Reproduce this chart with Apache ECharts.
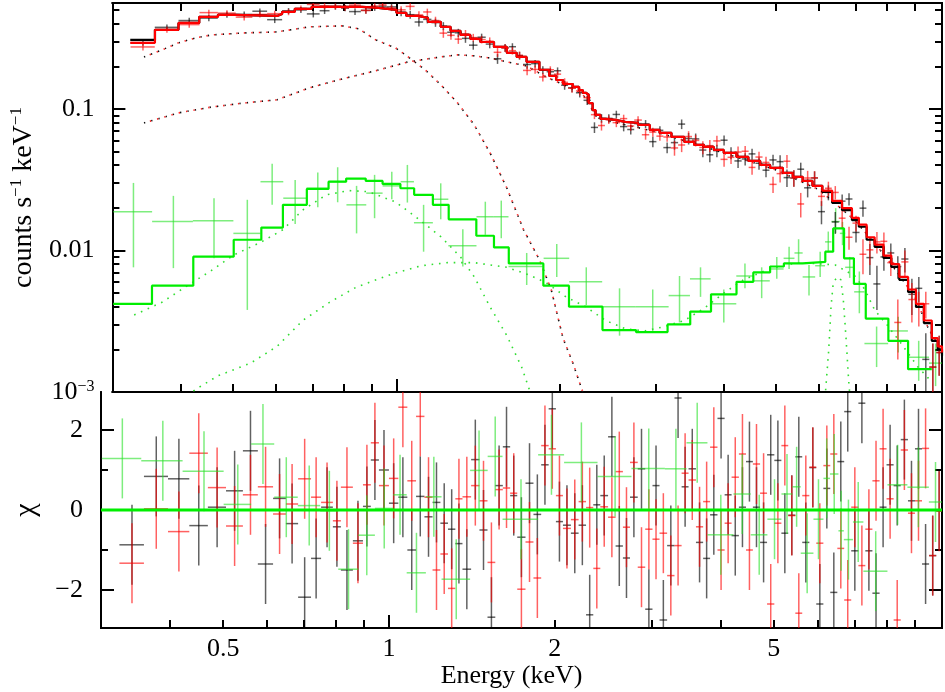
<!DOCTYPE html>
<html><head><meta charset="utf-8">
<script src="https://cdn.jsdelivr.net/npm/echarts@6/dist/echarts.min.js"></script>
<style>html,body{margin:0;padding:0;background:#fff}#c{width:945px;height:692px}</style>
</head><body><div id="c"></div>
<script>
// ---------- axis ranges & ticks ----------
const X_MIN = 0.3, X_MAX = 10.1;
const Y_MIN = 0.001, Y_MAX = 0.56;
const CHI_MIN = -2.95, CHI_MAX = 2.95;
const xMinorTicks = [0.4,0.5,0.6,0.7,0.8,0.9,2,3,4,5,6,7,8,9];
const xMajorTicks = [1];
const xTickLabels = [0.5,1,2,5];
const yMajorTicks = [0.001,0.01,0.1];
const yMinorTicks = [0.002,0.003,0.004,0.005,0.006,0.007,0.008,0.009,0.02,0.03,0.04,0.05,0.06,0.07,0.08,0.09,0.2,0.3,0.4,0.5];
const chiMajorTicks = [-2,0,2];
const chiMinorTicks = [-1,1];

// ---------- black / red spectra (shared bins) ----------
const binEdges = [0.324,0.359,0.397,0.434,0.469,0.506,0.543,0.578,0.616,0.650,0.684,0.722,0.753,0.791,0.818,0.860,0.897,0.927,0.959,
  1.00,1.04,1.08,1.12,1.16,1.20,1.24,1.28,1.32,1.36,1.41,1.46,1.51,1.56,1.61,1.66,1.71,1.77,1.83,1.89,1.95,
  2.01,2.07,2.14,2.21,2.28,2.35,2.42,2.50,2.58,2.66,2.74,2.83,2.92,3.01,3.10,3.20,3.30,3.40,3.50,3.61,
  3.72,3.83,3.95,4.07,4.19,4.32,4.45,4.58,4.72,4.86,5.01,5.16,5.31,5.47,5.63,5.80,5.97,6.15,6.33,6.52,
  6.71,6.91,7.12,7.33,7.55,7.78,8.01,8.25,8.50,8.76,9.02,9.29,9.57,9.86,10.1];
const blackRate = [0.294,0.377,0.421,0.438,0.464,0.465,0.490,0.427,0.492,0.500,0.469,0.494,0.528,0.515,0.487,0.497,0.519,0.532,0.526,
  0.482,0.463,0.411,0.429,0.407,0.385,0.348,0.345,0.315,0.282,
  0.321,0.287,0.226,0.270,0.275,0.238,0.206,0.209,0.188,0.183,
  0.186,0.147,0.141,0.130,0.115,0.074,0.0858,0.0857,0.0914,0.075,
  0.0715,0.0787,0.0783,0.0587,0.0706,0.0533,0.0578,0.0781,0.0618,0.0614,
  0.0512,0.0474,0.0507,0.0601,0.0488,0.0429,0.0443,0.0481,0.0413,0.0369,
  0.0436,0.0424,0.0327,0.0325,0.0375,0.0277,0.0325,0.0188,0.0257,0.0159,
  0.0223,0.0231,0.0134,0.0199,0.0089,0.0058,0.0090,0.0096,0.0077,0.0087,
  0.0049,0.0054,0.0017,0.0015,0.0019];
const redRate = [0.274,0.363,0.394,0.479,0.475,0.445,0.465,0.471,0.483,0.513,0.547,0.534,0.531,0.519,0.541,0.496,0.533,0.543,0.516,
  0.501,0.530,0.461,0.484,0.421,0.343,0.331,0.311,0.339,0.319,
  0.309,0.301,0.251,0.269,0.258,0.239,0.187,0.190,0.168,0.189,
  0.176,0.154,0.140,0.134,0.120,0.0911,0.0763,0.0841,0.080,0.0854,
  0.0757,0.0834,0.0657,0.0686,0.0642,0.0633,0.053,0.0556,0.0638,0.0599,
  0.0534,0.055,0.0594,0.044,0.0455,0.0496,0.0502,0.0386,0.0457,0.0419,
  0.0293,0.0349,0.0427,0.0325,0.0213,0.0325,0.0326,0.0241,0.0275,0.0257,
  0.0169,0.0124,0.0156,0.0094,0.0101,0.0115,0.0116,0.0082,0.0031,0.0083,
  0.0045,0.0040,0.0042,0.0015,0.0019];
const rateErr = [0.015,0.018,0.020,0.022,0.023,0.023,0.023,0.023,0.024,0.025,0.026,0.026,0.026,0.026,0.026,0.026,0.026,0.025,0.025,
  0.031,0.030,0.029,0.027,0.027,0.025,0.023,0.023,0.022,0.020,
  0.019,0.019,0.018,0.017,0.016,0.015,0.014,0.013,0.012,0.011,
  0.0104,0.0105,0.010,0.0095,0.0083,0.0064,0.006,0.0059,0.0057,0.0056,
  0.0055,0.0054,0.0051,0.005,0.0047,0.0046,0.0063,0.0061,0.0058,0.0056,
  0.0056,0.0054,0.0051,0.0049,0.0047,0.0046,0.0044,0.0043,0.0041,0.004,
  0.0038,0.0047,0.0046,0.0043,0.0042,0.004,0.0037,0.0035,0.0031,0.0028,
  0.0025,0.0023,0.002,0.0026,0.0022,0.002,0.0018,0.0016,0.0014,0.0017,
  0.0014,0.0011,0.0009,0.0007,0.0006];
const blackChi = [-0.87,0.84,0.78,-0.39,0.07,0.48,1.48,-1.35,0.29,-0.34,-2.18,-1.21,0.07,-0.42,-1.5,-0.77,0.09,1.25,1.0,
  0.17,0.32,-1.0,0.34,-0.17,0.19,-0.33,-0.48,-0.84,-1.48,
  1.26,-0.5,-2.68,0.61,1.58,0.36,-0.68,0.67,-0.11,1.13,
  2.53,-0.29,-0.38,-0.58,-0.38,-2.62,0.13,0.36,1.83,-0.9,
  -1.2,0.32,1.03,-2.48,0.61,-2.75,-0.89,2.8,0.58,1.03,
  -0.81,-1.21,-0.12,2.29,0.38,-0.64,0.07,1.21,0.07,-0.81,
  1.38,1.24,-0.58,-0.13,1.33,-0.81,1.06,-2.35,0.54,-2.06,
  1.21,2.46,-1.02,2.67,-1.02,-2.08,0.07,1.13,0.61,1.76,
  0.23,1.53,-1.35,-1.14,-0.02];
const redChi = [-1.33,0.03,-0.54,1.42,0.56,-0.4,0.38,0.58,-0.1,0.15,0.78,0.32,0.19,-0.27,0.57,-0.83,0.63,1.68,0.61,
  0.79,2.57,0.73,2.34,0.32,-1.5,-1.1,-1.96,0.28,0.33,
  0.61,0.23,-1.31,0.51,0.55,0.42,-1.98,-0.8,-1.7,1.61,
  1.53,0.36,-0.46,-0.24,0.21,0.06,-1.46,0.08,-0.18,0.96,
  -0.43,1.19,-1.43,-0.48,-0.73,-0.58,-1.64,-0.89,0.92,0.75,
  -0.42,0.21,1.57,-1.0,-0.33,0.82,1.4,-1.0,1.15,0.42,
  -2.35,-0.33,1.61,-0.14,-2.58,0.36,1.07,-0.83,1.11,1.4,
  -0.96,-2.25,0.07,-1.39,-0.48,0.73,1.53,0.28,-2.75,1.5,
  -0.08,0.23,1.54,-1.14,-0.03];

// ---------- green spectrum ----------
const greenEdges = [0.301,0.355,0.422,0.501,0.562,0.619,0.683,0.750,0.809,0.880,0.943,1.018,1.077,1.167,1.246,1.404,1.511,1.608,1.866,2.080,
  2.392,2.757,3.170,3.470,3.788,4.223,4.539,4.867,5.161,5.404,5.595,5.900,6.152,6.322,6.55,6.70,6.96,7.27,8.04,8.74,9.56,10.1];
const greenRate = [0.0188,0.016,0.0162,0.0132,0.0306,0.0234,0.0275,0.0306,0.021,0.0254,
  0.0286,0.0306,0.0157,0.023,0.0108,0.0173,0.0173,0.0077,0.0088,0.006,
  0.0040,0.0040,0.0048,0.0063,0.0042,0.0066,0.0061,0.0074,0.0088,0.0096,
  0.0065,0.0078,0.0115,0.016,0.0132,0.0076,0.0051,0.0022,0.0027,0.00176,0.0016];
const greenUp = [0.030,0.0243,0.0234,0.0228,0.0409,0.0315,0.0355,0.0387,0.0286,0.0342,
  0.036,0.0402,0.021,0.0298,0.0141,0.0221,0.0225,0.0096,0.0111,0.0076,
  0.0054,0.0053,0.0066,0.0076,0.0053,0.0081,0.0076,0.0090,0.0106,0.012,
  0.0079,0.0098,0.0136,0.0199,0.0159,0.009,0.0071,0.0029,0.0034,0.0023,0.0022];
const greenDown = [0.0076,0.0075,0.0088,0.0038,0.021,0.0154,0.0202,0.0219,0.0132,0.0169,
  0.023,0.0218,0.0098,0.0166,0.0077,0.0129,0.0122,0.0057,0.0065,0.0041,
  0.0025,0.0027,0.0031,0.0047,0.0031,0.0054,0.0046,0.0063,0.0074,0.0081,
  0.0048,0.0065,0.0097,0.0132,0.0109,0.0064,0.0036,0.0015,0.0019,0.0012,0.0011];
const greenChi = [1.29,1.23,0.97,0.14,1.65,0.32,0.11,-0.02,-1.48,-0.63,
  0.04,0.38,-1.57,0.33,-1.73,0.99,1.34,-0.23,1.38,1.19,
  0.84,1.04,1.03,1.68,-0.62,0.40,-0.62,-0.23,0.40,0.58,
  -1.08,-0.23,0.79,0.9,-0.52,-0.74,-0.3,-1.53,0.63,0.57,0.2];

// ---------- models ----------
const modelE = [0.3236,0.3593,0.397,0.4335,0.4693,0.506,0.603,0.616,0.650,0.698,0.864,0.927,1.0,1.043,1.096,1.143,1.207,1.258,1.312,1.368,
  1.427,1.512,1.597,1.665,1.736,1.833,1.911,1.968,2.026,2.113,2.167,2.203,2.231,2.259,2.297,2.326,2.375,2.426,2.528,2.637,
  2.784,2.927,3.051,3.209,3.388,3.532,3.684,3.840,4.005,4.227,4.445,4.674,4.874,5.145,5.365,5.595,5.833,6.081,6.340,6.611,
  6.895,7.100,7.339,7.591,7.881,8.148,8.427,8.747,9.046,9.354,9.672,9.917,10.1];
const blackModel = [0.307,0.362,0.405,0.447,0.462,0.454,0.469,0.485,0.509,0.526,0.517,0.501,0.477,0.454,0.440,0.412,0.380,0.356,0.333,0.312,
  0.297,0.274,0.249,0.233,0.215,0.189,0.171,0.160,0.150,0.143,0.136,0.130,0.126,0.110,0.098,0.0907,0.085,0.0836,0.081,0.0796,
  0.077,0.071,0.0677,0.0634,0.0584,0.0557,0.0539,0.0513,0.0489,0.0458,0.0429,0.0402,0.0383,0.0353,0.0331,0.031,0.0286,0.0259,0.0217,0.0193,
  0.0164,0.0147,0.0119,0.0106,0.00885,0.00765,0.0062,0.00509,0.00399,0.00307,0.0023,0.0020,0.0018];
const redModel = [0.293,0.362,0.405,0.447,0.462,0.454,0.469,0.485,0.509,0.526,0.517,0.501,0.477,0.454,0.440,0.412,0.380,0.356,0.333,0.312,
  0.297,0.274,0.249,0.233,0.215,0.189,0.171,0.160,0.150,0.143,0.136,0.130,0.126,0.110,0.098,0.0907,0.085,0.0836,0.081,0.0796,
  0.077,0.071,0.0677,0.0634,0.0584,0.0557,0.0539,0.0513,0.0489,0.0458,0.0429,0.0402,0.0383,0.0353,0.0331,0.031,0.0286,0.0265,0.0224,0.0199,
  0.0170,0.0152,0.0124,0.0110,0.0092,0.0080,0.0065,0.0053,0.0042,0.0032,0.0024,0.0021,0.0019];
const softE = [0.343,0.370,0.397,0.428,0.456,0.523,0.603,0.692,0.795,0.853,0.916,0.996,1.051,1.129,1.207,1.296,1.391,1.487,1.597,1.714,1.833,1.927,2.026,2.113,2.203,2.278];
const softV = [0.233,0.261,0.293,0.318,0.333,0.344,0.350,0.380,0.386,0.368,0.307,0.270,0.233,0.189,0.148,0.110,0.077,0.0489,0.0276,0.014,0.0086,0.0053,0.0024,0.0016,0.001,0.00063];
const hardE = [0.343,0.397,0.456,0.523,0.603,0.692,0.795,0.916,1.051,1.207,1.296,1.391,1.487,1.597,1.736,1.888,2.05,2.2,2.26,2.33,2.43,3.0,4.0,5.0,6.0,7.0,8.0,9.0,9.5,10.1];
const hardV = [0.0796,0.0937,0.103,0.110,0.116,0.141,0.163,0.186,0.215,0.233,0.241,0.237,0.229,0.215,0.201,0.168,0.146,0.128,0.108,0.089,0.083,0.069,0.0489,0.0370,0.0268,0.0162,0.0088,0.0047,0.0029,0.0019];
const gModelE = [0.301,0.3548,0.4227,0.5017,0.564,0.618,0.684,0.750,0.808,0.878,0.943,1.017,1.078,1.167,1.248,1.403,1.512,1.610,1.864,2.078,
  2.395,2.761,3.156,3.474,3.794,4.227,4.539,4.874,5.167,5.595,6.159,6.368,6.668,6.953,7.311,8.046,8.747,9.672];
const gModelV = [0.00419,0.00564,0.00904,0.0119,0.0145,0.0210,0.0272,0.0306,0.0322,0.0310,0.0295,0.0275,0.0247,0.0210,0.0166,0.0127,0.0105,0.0081,0.00564,0.00401,
  0.00274,0.00265,0.0030,0.0037,0.0049,0.0060,0.0070,0.0077,0.0081,0.0083,0.0098,0.0143,0.0088,0.0058,0.0033,0.0023,0.00145,0.00145];
const gSoftE = [0.329,0.370,0.414,0.456,0.502,0.562,0.618,0.672,0.743,0.818,0.889,0.996,1.083,1.207,1.312,1.391,1.487,1.597,1.700,1.758,1.810];
const gSoftV = [0.0035,0.0043,0.0057,0.0072,0.0093,0.0114,0.0140,0.0193,0.0247,0.0265,0.0260,0.0220,0.0174,0.0125,0.0090,0.0065,0.0040,0.0025,0.0015,0.00103,0.0007];
const gHardE = [0.402,0.428,0.469,0.539,0.603,0.672,0.753,0.843,0.979,1.110,1.243,1.391,1.597,1.758,1.888,2.052,2.231,2.426,2.637,2.867,
  3.117,3.388,3.684,4.005,4.354,4.733,5.145,5.595,6.421,6.982,7.281,7.591,8.046,8.495,9.123,9.631];
const gHardV = [0.00088,0.00105,0.0013,0.0016,0.0021,0.0032,0.0043,0.0055,0.0068,0.0078,0.0082,0.0082,0.0076,0.0067,0.0059,0.0047,0.0040,0.0032,0.0028,0.0027,
  0.0029,0.0032,0.0039,0.0050,0.0062,0.0071,0.0079,0.0082,0.0079,0.0066,0.0053,0.0038,0.0029,0.0022,0.0015,0.0012];
const feE = [6.10,6.16,6.25,6.31,6.37,6.475,6.58,6.65,6.72,6.80,6.86,6.92];
const feV = [0.0005,0.00097,0.0020,0.0040,0.0059,0.0065,0.0062,0.0044,0.0025,0.0012,0.0008,0.0004];

// ---------- helpers ----------
const FONT = 'Liberation Serif';
const pairs = (xs, ys) => xs.map((x, i) => [x, ys[i]]);
function crossRows(edges, vals, lowArr, highArr) {
  const rows = [];
  for (let i = 0; i < vals.length; i++) {
    const lo = edges[i], hi = edges[i + 1];
    rows.push([(lo + hi) / 2, vals[i], lo, hi, lowArr[i], highArr[i]]);
  }
  return rows;
}
function renderCross(color, width) {
  return function (params, api) {
    const cs = params.coordSys;
    const x0 = cs.x, x1 = cs.x + cs.width, y0 = cs.y, y1 = cs.y + cs.height;
    const p = api.coord([api.value(0), api.value(1)]);
    const pl = api.coord([api.value(2), api.value(1)]);
    const pr = api.coord([api.value(3), api.value(1)]);
    const pb = api.coord([api.value(0), api.value(4)]);
    const pt = api.coord([api.value(0), api.value(5)]);
    const style = { stroke: color, lineWidth: width };
    const ch = [];
    if (p[1] >= y0 && p[1] <= y1) ch.push({ type: 'line', shape: { x1: Math.max(x0, pl[0]), y1: p[1], x2: Math.min(x1, pr[0]), y2: p[1] }, style });
    const ya = Math.max(y0, Math.min(y1, pt[1])), yb = Math.max(y0, Math.min(y1, pb[1]));
    if (yb > ya) ch.push({ type: 'line', shape: { x1: p[0], y1: ya, x2: p[0], y2: yb }, style });
    return { type: 'group', children: ch };
  };
}
function crossSeries(rows, xi, yi, color, width, z) {
  return { type: 'custom', xAxisIndex: xi, yAxisIndex: yi, z, silent: true, data: rows,
    encode: { x: 0, y: 1 }, renderItem: renderCross(color, width) };
}
function lineSeries(data, xi, yi, color, width, z, extra) {
  return Object.assign({ type: 'line', xAxisIndex: xi, yAxisIndex: yi, z, silent: true, data,
    showSymbol: false, symbol: 'none', clip: true, lineStyle: { color, width } }, extra || {});
}
function dotted(data, color, dash, offset, width) {
  return lineSeries(data, 0, 0, color, width, 2, { lineStyle: { color, width, type: dash, dashOffset: offset, cap: 'butt' } });
}
const AXLINE = { show: true, onZero: false, lineStyle: { color: '#000', width: 2 } };
const LBL = { fontFamily: FONT, fontSize: 26, color: '#000' };
function axisDef(kind, grid, pos, ticks, len, extra) {
  const base = { gridIndex: grid, position: pos, axisLine: AXLINE,
    axisTick: { show: true, inside: true, length: len, customValues: ticks, lineStyle: { color: '#000', width: 2 } },
    axisLabel: { show: false }, splitLine: { show: false }, minorTick: { show: false }, minorSplitLine: { show: false } };
  if (kind === 'x') Object.assign(base, { type: 'log', logBase: 10, min: X_MIN, max: X_MAX });
  else if (kind === 'ylog') Object.assign(base, { type: 'log', logBase: 10, min: Y_MIN, max: Y_MAX });
  else Object.assign(base, { type: 'value', min: CHI_MIN, max: CHI_MAX });
  return Object.assign(base, extra || {});
}

const xAxes = [
  axisDef('x', 0, 'bottom', xMinorTicks, 8),
  axisDef('x', 0, 'bottom', xMajorTicks, 13),
  axisDef('x', 0, 'top', xMinorTicks, 8),
  axisDef('x', 0, 'top', xMajorTicks, 13),
  axisDef('x', 1, 'bottom', xMinorTicks, 8, {
    axisLabel: Object.assign({ show: true, customValues: xTickLabels, margin: 8, formatter: v => String(+v.toFixed(2)) }, LBL),
    name: 'Energy (keV)', nameLocation: 'middle', nameGap: 34,
    nameTextStyle: Object.assign({ padding: [0, 20, 0, 0] }, LBL) }),
  axisDef('x', 1, 'bottom', xMajorTicks, 13)
];
const yAxes = [
  axisDef('ylog', 0, 'left', yMajorTicks, 13, {
    axisLabel: Object.assign({ show: true, customValues: yMajorTicks, margin: 18,
      formatter: v => (Math.abs(v - 0.001) < 1e-9 ? '{b|10}{s|−3}' : String(+v.toFixed(3))),
      rich: { b: { fontFamily: FONT, fontSize: 26, color: '#000' }, s: { fontFamily: FONT, fontSize: 16, color: '#000', verticalAlign: 'top', padding: [0, 0, 10, 0] } } }, LBL),
    name: '{a|counts s}{s|−1}{a| keV}{s|−1}', nameLocation: 'middle', nameGap: 52, nameRotate: 90,
    nameTextStyle: Object.assign({ rich: { a: { fontFamily: FONT, fontSize: 28, color: '#000', lineHeight: 32 },
      s: { fontFamily: FONT, fontSize: 17, color: '#000', verticalAlign: 'top', lineHeight: 32, padding: [0, 0, 12, 0] } } }, LBL) }),
  axisDef('ylog', 0, 'left', yMinorTicks, 7),
  axisDef('ylog', 0, 'right', yMajorTicks, 13),
  axisDef('ylog', 0, 'right', yMinorTicks, 7),
  axisDef('chi', 1, 'left', chiMajorTicks, 13, {
    axisLabel: Object.assign({ show: true, customValues: chiMajorTicks, margin: 18, formatter: v => (v < 0 ? '−' + Math.abs(v) : String(v)) }, LBL),
    name: 'χ', nameLocation: 'middle', nameGap: 60, nameRotate: 90, nameTextStyle: Object.assign({}, LBL, { fontSize: 30 }) }),
  axisDef('chi', 1, 'left', chiMinorTicks, 7),
  axisDef('chi', 1, 'right', chiMajorTicks, 13),
  axisDef('chi', 1, 'right', chiMinorTicks, 7)
];

const BLACK = 'rgba(0,0,0,0.62)', RED = 'rgba(255,0,0,0.62)', GREENX = 'rgba(40,225,40,0.6)';
const up = (v, e) => v.map((x, i) => x + e[i]);
const dn = (v, e) => v.map((x, i) => x - e[i]);
const plus1 = v => v.map(x => x + 1), minus1 = v => v.map(x => x - 1);

const series = [
  // top panel: model components (dotted, black and red dots side by side)
  dotted(pairs(softE, softV), '#111', [1.3, 6.2], 0, 1.6),
  dotted(pairs(softE, softV), '#ff2020', [1.3, 6.2], 1.4, 1.6),
  dotted(pairs(hardE, hardV), '#111', [1.3, 6.2], 0, 1.6),
  dotted(pairs(hardE, hardV), '#ff2020', [1.3, 6.2], 1.4, 1.6),
  dotted(pairs(gSoftE, gSoftV), '#33dd33', [1.6, 5.8], 0, 1.6),
  dotted(pairs(gHardE, gHardV), '#33dd33', [1.6, 5.8], 0, 1.6),
  dotted(pairs(feE, feV), '#33dd33', [1.6, 5.8], 0, 1.6),
  // top panel: data
  crossSeries(crossRows(greenEdges, greenRate, greenDown, greenUp), 0, 0, GREENX, 1.5, 3),
  crossSeries(crossRows(binEdges, blackRate, dn(blackRate, rateErr), up(blackRate, rateErr)), 0, 0, BLACK, 1.5, 3),
  crossSeries(crossRows(binEdges, redRate, dn(redRate, rateErr), up(redRate, rateErr)), 0, 0, RED, 1.5, 3),
  // top panel: total models (steps)
  lineSeries(pairs(modelE, blackModel), 0, 0, '#000', 2.2, 5, { step: 'end' }),
  lineSeries(pairs(modelE, redModel), 0, 0, '#ff0000', 2.2, 6, { step: 'end' }),
  lineSeries(pairs(gModelE, gModelV), 0, 0, '#00ee00', 2.2, 6, { step: 'end' }),
  // bottom panel: residuals
  crossSeries(crossRows(binEdges, blackChi, minus1(blackChi), plus1(blackChi)), 4, 4, BLACK, 1.5, 3),
  crossSeries(crossRows(binEdges, redChi, minus1(redChi), plus1(redChi)), 4, 4, RED, 1.5, 3),
  crossSeries(crossRows(greenEdges, greenChi, minus1(greenChi), plus1(greenChi)), 4, 4, GREENX, 1.5, 3),
  lineSeries([[X_MIN, 0], [X_MAX, 0]], 4, 4, '#00ee00', 3, 8)
];

const chart = echarts.init(document.getElementById('c'), null, { renderer: 'canvas' });
chart.setOption({
  animation: false,
  backgroundColor: '#fff',
  textStyle: { fontFamily: FONT },
  grid: [
    { left: 101, top: 3, width: 841, height: 389 },
    { left: 101, top: 392, width: 841, height: 236 }
  ],
  xAxis: xAxes,
  yAxis: yAxes,
  series
});
</script></body></html>
